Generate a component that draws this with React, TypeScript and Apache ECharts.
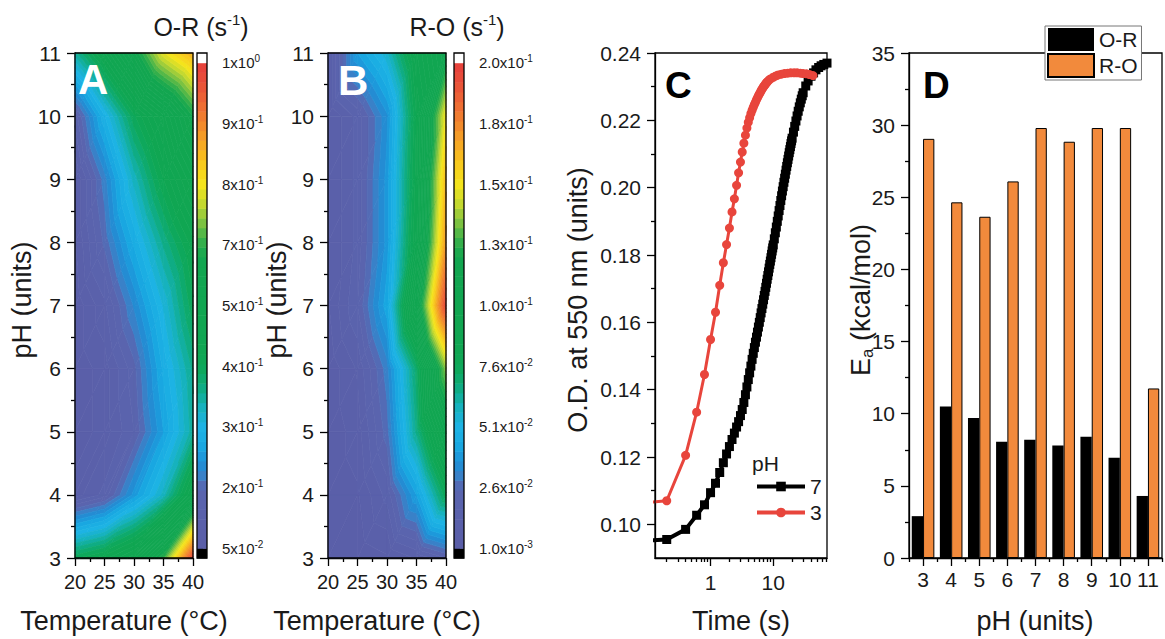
import React, { useEffect, useRef } from 'react';
import * as echarts from 'echarts';

const FONT = '"Liberation Sans", Arial, Helvetica, sans-serif';
const TXT = '#1a1a1a';

// ---------------- Panels A & B (contour maps) ----------------
const temperatures = [20, 25, 30, 35, 40];
const pHValues = [3, 4, 5, 6, 7, 8, 9, 10, 11];

// O-R rate constants (s^-1); rows: pH 3..11, columns: 20..40 °C
const rateOR = [
  [0.40, 0.43, 0.48, 0.70, 0.98],
  [0.11, 0.155, 0.25, 0.33, 0.46],
  [0.08, 0.11, 0.17, 0.26, 0.35],
  [0.08, 0.11, 0.185, 0.28, 0.36],
  [0.08, 0.14, 0.23, 0.31, 0.40],
  [0.095, 0.20, 0.28, 0.36, 0.43],
  [0.095, 0.22, 0.33, 0.42, 0.50],
  [0.155, 0.29, 0.40, 0.48, 0.66],
  [0.35, 0.45, 0.62, 0.79, 0.86],
];

// R-O rate constants (s^-1); rows: pH 3..11, columns: 20..40 °C
const rateRO = [
  [0.006, 0.006, 0.0085, 0.0135, 0.021],
  [0.006, 0.0085, 0.0185, 0.041, 0.076],
  [0.006, 0.011, 0.027, 0.066, 0.106],
  [0.006, 0.0135, 0.031, 0.071, 0.138],
  [0.0085, 0.021, 0.0435, 0.106, 0.196],
  [0.0085, 0.0185, 0.0385, 0.086, 0.174],
  [0.0085, 0.0185, 0.0385, 0.083, 0.165],
  [0.0085, 0.0185, 0.036, 0.081, 0.15],
  [0.0085, 0.041, 0.056, 0.088, 0.115],
];

const levelsOR = [0.05, 0.2, 0.3, 0.4, 0.5, 0.7, 0.8, 0.9, 1.0];
const levelLabelsOR = ['5x10^-2', '2x10^-1', '3x10^-1', '4x10^-1', '5x10^-1', '7x10^-1', '8x10^-1', '9x10^-1', '1x10^0'];
const levelsRO = [0.001, 0.026, 0.051, 0.076, 0.10, 0.13, 0.15, 0.18, 0.20];
const levelLabelsRO = ['1.0x10^-3', '2.6x10^-2', '5.1x10^-2', '7.6x10^-2', '1.0x10^-1', '1.3x10^-1', '1.5x10^-1', '1.8x10^-1', '2.0x10^-1'];

// ---------------- Panel C (kinetic traces) ----------------
const timePH7 = [
  0.1, 0.2, 0.4, 0.6, 0.8, 1.0, 1.2, 1.4, 1.6, 1.8, 2.0, 2.2, 2.4, 2.6, 2.8, 3.0,
  3.2, 3.4, 3.6, 3.8, 4.0, 4.2, 4.4, 4.6, 4.8, 5.0, 5.2, 5.4, 5.6, 5.8, 6.0,
  6.2, 6.4, 6.6, 6.8, 7.0, 7.2, 7.4, 7.6, 7.8, 8.0, 8.2, 8.4, 8.6, 8.8, 9.0, 9.2, 9.4, 9.6, 9.8, 10.0,
  10.4, 10.8, 11.2, 11.6, 12.0, 12.4, 12.8, 13.2, 13.6, 14.0, 14.4, 14.8, 15.2, 15.6, 16.0,
  16.4, 16.8, 17.2, 17.6, 18.0, 18.4, 18.8, 19.2, 19.6, 20.0,
  21, 22, 23, 24, 25, 26, 27, 28, 29, 30, 33, 36, 40, 44, 48, 53, 58, 64, 72,
];
const odPH7 = [
  0.0952, 0.0955, 0.0985, 0.1027, 0.1058, 0.1094, 0.1122, 0.1154, 0.1183, 0.1209, 0.1231, 0.1252, 0.1271, 0.1289, 0.1305, 0.1323,
  0.1341, 0.1362, 0.1385, 0.1408, 0.1430, 0.1450, 0.1470, 0.1490, 0.1508, 0.1525, 0.1541, 0.1556, 0.1571, 0.1586, 0.1600,
  0.1614, 0.1628, 0.1641, 0.1654, 0.1667, 0.1680, 0.1692, 0.1704, 0.1716, 0.1728, 0.1739, 0.1750, 0.1761, 0.1772, 0.1782, 0.1792, 0.1802, 0.1812, 0.1821, 0.1830,
  0.1848, 0.1866, 0.1883, 0.1900, 0.1916, 0.1932, 0.1947, 0.1962, 0.1976, 0.1990, 0.2003, 0.2016, 0.2028, 0.2040, 0.2052,
  0.2063, 0.2074, 0.2084, 0.2094, 0.2104, 0.2113, 0.2122, 0.2131, 0.2139, 0.2147,
  0.2165, 0.2182, 0.2198, 0.2213, 0.2227, 0.2240, 0.2252, 0.2263, 0.2273, 0.2282, 0.2302, 0.2317, 0.2331, 0.2341, 0.2350, 0.2357, 0.2362, 0.2366, 0.2370,
];
const timePH3 = [
  0.1, 0.2, 0.4, 0.6, 0.8, 1.0, 1.2, 1.4, 1.6, 1.8, 2.0, 2.2, 2.4, 2.6, 2.8, 3.0,
  3.2, 3.4, 3.6, 3.8, 4.0, 4.2, 4.4, 4.6, 4.8, 5.0, 5.2, 5.4, 5.6, 5.8, 6.0,
  6.2, 6.4, 6.6, 6.8, 7.0, 7.2, 7.4, 7.6, 7.8, 8.0, 8.5, 9.0, 10, 11, 12, 13.5, 15, 17, 19, 21.5, 24, 27, 30, 34, 38, 43,
];
const odPH3 = [
  0.1065, 0.1070, 0.1205, 0.1333, 0.1445, 0.1549, 0.1630, 0.1710, 0.1777, 0.1831, 0.1880, 0.1928, 0.1967, 0.2007, 0.2044, 0.2076,
  0.2106, 0.2132, 0.2156, 0.2177, 0.2194, 0.2208, 0.2220, 0.2230, 0.2239, 0.2247, 0.2254, 0.2261, 0.2267, 0.2273, 0.2278,
  0.2283, 0.2288, 0.2292, 0.2296, 0.2300, 0.2303, 0.2306, 0.2309, 0.2312, 0.2314, 0.2319, 0.2323, 0.2328, 0.2332, 0.2335, 0.2337, 0.2339, 0.2340, 0.2341, 0.2341, 0.2341, 0.2340, 0.2339, 0.2338, 0.2336, 0.2333,
];
const odTicks = [0.10, 0.12, 0.14, 0.16, 0.18, 0.20, 0.22, 0.24];
const odMinorTicks = [0.11, 0.13, 0.15, 0.17, 0.19, 0.21, 0.23];
const timeTicks = [1, 10];
const timeMinorTicks = [0.2, 0.3, 0.4, 0.5, 0.6, 0.7, 0.8, 0.9, 2, 3, 4, 5, 6, 7, 8, 9, 20, 30, 40, 50, 60, 70];

// ---------------- Panel D (activation energies) ----------------
const pHCategories = ['3', '4', '5', '6', '7', '8', '9', '10', '11'];
const eaOR = [2.9, 10.5, 9.7, 8.05, 8.2, 7.8, 8.4, 6.95, 4.3];
const eaRO = [29.05, 24.65, 23.65, 26.1, 29.8, 28.85, 29.8, 29.8, 11.75];

// ---------------- styling ----------------
const cmapStops: [number, string][] = [
  [0.0, '#5A5DA7'], [1.0, '#5A65AF'], [1.15, '#3F7DC4'], [1.4, '#1F8FD6'], [1.7, '#19A9E2'],
  [2.0, '#1DB3E4'], [2.3, '#17B2C2'], [2.6, '#0FAD8A'], [2.9, '#0EA85E'], [3.2, '#10A652'],
  [4.8, '#12A650'], [5.1, '#3CB14A'], [5.4, '#86C540'], [5.7, '#C8DA2E'], [6.0, '#F4E41C'],
  [6.3, '#F8CD1D'], [6.6, '#F7AE22'], [6.9, '#F3912A'], [7.2, '#EF7532'], [7.5, '#EB5C37'],
  [7.8, '#E8483A'], [8.0, '#E6403B'],
];
const LAY = {
  A: { left: 75, top: 53, width: 118, height: 505 },
  Acb: { left: 197, top: 53, width: 10, height: 505 },
  B: { left: 328, top: 53, width: 118, height: 505 },
  Bcb: { left: 454, top: 53, width: 10, height: 505 },
  C: { left: 655, top: 53, width: 172, height: 505 },
  D: { left: 909, top: 53, width: 253, height: 505 },
};
const CB_MIN = -0.16;
const CB_MAX = 8.16;
const STEP = 0.16;

function hexRgb(h: string) {
  const n = parseInt(h.slice(1), 16);
  return [(n >> 16) & 255, (n >> 8) & 255, n & 255];
}
function cmap(u: number) {
  if (u <= cmapStops[0][0]) return cmapStops[0][1];
  for (let k = 1; k < cmapStops.length; k++) {
    if (u <= cmapStops[k][0]) {
      const [u0, c0] = cmapStops[k - 1];
      const [u1, c1] = cmapStops[k];
      const t = (u - u0) / (u1 - u0);
      const a = hexRgb(c0), b = hexRgb(c1);
      return `rgb(${Math.round(a[0] + t * (b[0] - a[0]))},${Math.round(a[1] + t * (b[1] - a[1]))},${Math.round(a[2] + t * (b[2] - a[2]))})`;
    }
  }
  return cmapStops[cmapStops.length - 1][1];
}

const bands: { lo: number; hi: number; color: string }[] = [{ lo: -1000, hi: 0, color: '#000000' }];
const nBands = Math.round(8 / STEP);
for (let k = 0; k < nBands; k++) bands.push({ lo: k * STEP, hi: (k + 1) * STEP, color: cmap((k + 0.5) * STEP) });
bands.push({ lo: 8, hi: 1000, color: '#ffffff' });

function toLevel(v: number, levels: number[]) {
  const n = levels.length;
  if (v <= levels[0]) return (v - levels[0]) / (levels[1] - levels[0]);
  for (let i = 0; i < n - 1; i++) {
    if (v <= levels[i + 1]) return i + (v - levels[i]) / (levels[i + 1] - levels[i]);
  }
  return n - 1 + (v - levels[n - 1]) / (levels[n - 1] - levels[n - 2]);
}

type P3 = number[];
function clipHalf(poly: P3[], f: (p: P3) => number) {
  const res: P3[] = [];
  for (let k = 0; k < poly.length; k++) {
    const P = poly[k], Q = poly[(k + 1) % poly.length];
    const fp = f(P), fq = f(Q);
    if (fp >= 0) res.push(P);
    if ((fp >= 0) !== (fq >= 0)) {
      const t = fp / (fp - fq);
      res.push([P[0] + t * (Q[0] - P[0]), P[1] + t * (Q[1] - P[1]), P[2] + t * (Q[2] - P[2])]);
    }
  }
  return res;
}

function makeContour(values: number[][], levels: number[]) {
  const u = values.map((row) => row.map((v) => toLevel(v, levels)));
  return (params: any, api: any) => {
    const i = temperatures.indexOf(api.value(0));
    const j = pHValues.indexOf(api.value(1));
    const corner = (ii: number, jj: number): P3 => {
      const c = api.coord([temperatures[ii], pHValues[jj]]);
      return [c[0], c[1], u[jj][ii]];
    };
    const p00 = corner(i, j), p10 = corner(i + 1, j), p01 = corner(i, j + 1), p11 = corner(i + 1, j + 1);
    const tris = [[p00, p10, p11], [p00, p11, p01]];
    const children: any[] = [];
    for (const tri of tris) {
      const us = tri.map((p) => p[2]);
      const umin = Math.min(...us), umax = Math.max(...us);
      for (const b of bands) {
        if (b.hi < umin || b.lo > umax) continue;
        let poly = clipHalf(tri, (p) => p[2] - b.lo);
        poly = clipHalf(poly, (p) => b.hi - p[2]);
        if (poly.length < 3) continue;
        children.push({
          type: 'polygon',
          shape: { points: poly.map((p) => [p[0], p[1]]) },
          style: { fill: b.color, stroke: b.color, lineWidth: 0.7 },
        });
      }
    }
    return { type: 'group', children };
  };
}

const cells: number[][] = [];
for (let j = 0; j < pHValues.length - 1; j++)
  for (let i = 0; i < temperatures.length - 1; i++) cells.push([temperatures[i], pHValues[j]]);

const bandData = bands.map((b, k) => [0, Math.max(b.lo, CB_MIN), Math.min(b.hi, CB_MAX), k]);
const colorbarRender = (params: any, api: any) => {
  const k = api.value(3);
  const p1 = api.coord([0, api.value(2)]);
  const p2 = api.coord([1, api.value(1)]);
  return {
    type: 'rect',
    shape: { x: p1[0], y: p1[1], width: p2[0] - p1[0], height: p2[1] - p1[1] + 0.5 },
    style: { fill: bands[k].color },
  };
};

const richSup = (s: string) => {
  const [m, e] = s.split('^');
  return `{m|${m}}{e|${e}}`;
};

const black = '#000';
const lineSt = { color: black, width: 1.3 };

function grid(g: any) {
  return { ...g, show: true, borderColor: black, borderWidth: 1.3, backgroundColor: 'rgba(0,0,0,0)', z: 10, containLabel: false, outerBoundsMode: 'none' };
}

function tempAxis(gridIndex: number) {
  return {
    type: 'value', gridIndex, min: 20, max: 40, interval: 5,
    axisLine: { show: true, lineStyle: lineSt },
    axisTick: { show: true, length: 8, lineStyle: lineSt },
    minorTick: { show: true, splitNumber: 2, length: 4, lineStyle: lineSt },
    axisLabel: { fontSize: 20, margin: 14, color: TXT, fontFamily: FONT },
    splitLine: { show: false }, minorSplitLine: { show: false },
  };
}
function pHAxis(gridIndex: number) {
  return {
    type: 'value', gridIndex, min: 3, max: 11, interval: 1,
    axisLine: { show: true, lineStyle: lineSt },
    axisTick: { show: true, length: 8, lineStyle: lineSt },
    minorTick: { show: true, splitNumber: 2, length: 4, lineStyle: lineSt },
    axisLabel: { fontSize: 21, margin: 14, color: TXT, fontFamily: FONT },
    splitLine: { show: false }, minorSplitLine: { show: false },
  };
}
function cbXAxis(gridIndex: number) {
  return { type: 'value', gridIndex, min: 0, max: 1, show: false };
}
function cbYAxis(gridIndex: number, labels: string[]) {
  const idx = labels.map((_, i) => i);
  return {
    type: 'value', gridIndex, position: 'right', min: CB_MIN, max: CB_MAX,
    axisLine: { show: false },
    axisTick: { show: true, length: 6, customValues: idx, lineStyle: { color: black, width: 1.2 } },
    axisLabel: {
      show: true, customValues: idx, margin: 15,
      formatter: (v: number) => richSup(labels[Math.round(v)]),
      rich: {
        m: { fontSize: 15, fontFamily: FONT, color: TXT, lineHeight: 18 },
        e: { fontSize: 10, fontFamily: FONT, color: TXT, lineHeight: 8, verticalAlign: 'top' },
      },
    },
    splitLine: { show: false },
  };
}

const axisTitle = (text: string, x: number, y: number, rotate = false) => ({
  type: 'text', x, y, z: 100, rotation: rotate ? Math.PI / 2 : 0,
  style: { text, font: `27px ${FONT}`, fill: TXT, align: 'center', verticalAlign: 'middle', textAlign: 'center', textVerticalAlign: 'middle' },
});
const letter = (text: string, x: number, y: number, size: number, fill: string) => ({
  type: 'text', x, y, z: 100,
  style: { text, font: `bold ${size}px ${FONT}`, fill, align: 'left', verticalAlign: 'middle', textAlign: 'left', textVerticalAlign: 'middle' },
});
const panelTitle = (name: string, x: number) => ({
  type: 'text', x, y: 27, z: 100,
  style: {
    text: `{a|${name} (s}{b|-1}{a|)}`, align: 'center', verticalAlign: 'middle', textAlign: 'center', textVerticalAlign: 'middle',
    rich: {
      a: { fontSize: 25, fontFamily: FONT, fill: TXT, color: TXT, lineHeight: 30 },
      b: { fontSize: 15, fontFamily: FONT, fill: TXT, color: TXT, lineHeight: 12, verticalAlign: 'top' },
    },
  },
});

export default function App() {
  const ref = useRef<HTMLDivElement>(null);
  useEffect(() => {
    if (!ref.current) return;
    const chart = echarts.init(ref.current, null, { renderer: 'svg' });
    const option: any = {
      animation: false,
      backgroundColor: '#ffffff',
      textStyle: { fontFamily: FONT },
      grid: [grid(LAY.A), grid(LAY.Acb), grid(LAY.B), grid(LAY.Bcb), grid(LAY.C), grid(LAY.D)],
      xAxis: [
        tempAxis(0),
        cbXAxis(1),
        tempAxis(2),
        cbXAxis(3),
        {
          type: 'log', logBase: 10, gridIndex: 4, min: 0.13, max: 72, position: 'bottom',
          axisLine: { show: true, lineStyle: lineSt },
          axisTick: { show: true, length: 8, customValues: timeTicks, lineStyle: lineSt },
          axisLabel: { customValues: timeTicks, fontSize: 21, margin: 14, color: TXT, fontFamily: FONT, formatter: (v: number) => String(v) },
          splitLine: { show: false }, minorTick: { show: false },
        },
        {
          type: 'log', logBase: 10, gridIndex: 4, min: 0.13, max: 72, position: 'bottom',
          axisLine: { show: false },
          axisTick: { show: true, length: 4, customValues: timeMinorTicks, lineStyle: lineSt },
          axisLabel: { show: false },
          splitLine: { show: false },
        },
        {
          type: 'category', gridIndex: 5, data: pHCategories, position: 'bottom',
          axisLine: { show: true, lineStyle: lineSt },
          axisTick: { show: true, length: 8, alignWithLabel: true, lineStyle: lineSt },
          axisLabel: { fontSize: 21, margin: 11, color: TXT, fontFamily: FONT, interval: 0 },
          splitLine: { show: false },
        },
        {
          type: 'category', gridIndex: 5, data: pHCategories, position: 'bottom',
          axisLine: { show: false },
          axisTick: { show: true, length: 4, alignWithLabel: false, interval: 0, lineStyle: lineSt },
          axisLabel: { show: false },
          splitLine: { show: false },
        },
      ],
      yAxis: [
        pHAxis(0),
        cbYAxis(1, levelLabelsOR),
        pHAxis(2),
        cbYAxis(3, levelLabelsRO),
        {
          type: 'value', gridIndex: 4, min: 0.09, max: 0.24, position: 'left',
          axisLine: { show: true, lineStyle: lineSt },
          axisTick: { show: true, length: 8, customValues: odTicks, lineStyle: lineSt },
          axisLabel: { customValues: odTicks, fontSize: 21, margin: 14, color: TXT, fontFamily: FONT, formatter: (v: number) => v.toFixed(2) },
          splitLine: { show: false },
        },
        {
          type: 'value', gridIndex: 4, min: 0.09, max: 0.24, position: 'left',
          axisLine: { show: false },
          axisTick: { show: true, length: 4, customValues: odMinorTicks, lineStyle: lineSt },
          axisLabel: { show: false },
          splitLine: { show: false },
        },
        {
          type: 'value', gridIndex: 5, min: 0, max: 35, interval: 5,
          axisLine: { show: true, lineStyle: lineSt },
          axisTick: { show: true, length: 8, lineStyle: lineSt },
          minorTick: { show: true, splitNumber: 2, length: 4, lineStyle: lineSt },
          axisLabel: { fontSize: 21, margin: 14, color: TXT, fontFamily: FONT },
          splitLine: { show: false }, minorSplitLine: { show: false },
        },
      ],
      legend: [
        {
          data: ['7', '3'], left: 750, top: 471, orient: 'vertical',
          itemWidth: 48, itemHeight: 12, itemGap: 5, itemTextGap: 2,
          lineStyle: { width: 4 },
          textStyle: { fontSize: 21, color: TXT, fontFamily: FONT }, selectedMode: false,
        },
        {
          data: ['O-R', 'R-O'], left: 1045, top: 26, orient: 'vertical', icon: 'rect',
          itemWidth: 46, itemHeight: 23, itemGap: 2, itemTextGap: 4, padding: [2, 4, 2, 2],
          borderColor: '#777', borderWidth: 1, backgroundColor: '#fff', z: 20,
          textStyle: { fontSize: 21, color: TXT, fontFamily: FONT }, selectedMode: false,
        },
      ],
      series: [
        { type: 'custom', name: 'O-R map', xAxisIndex: 0, yAxisIndex: 0, data: cells, renderItem: makeContour(rateOR, levelsOR), silent: true },
        { type: 'custom', name: 'O-R scale', xAxisIndex: 1, yAxisIndex: 1, data: bandData, renderItem: colorbarRender, silent: true },
        { type: 'custom', name: 'R-O map', xAxisIndex: 2, yAxisIndex: 2, data: cells, renderItem: makeContour(rateRO, levelsRO), silent: true },
        { type: 'custom', name: 'R-O scale', xAxisIndex: 3, yAxisIndex: 3, data: bandData, renderItem: colorbarRender, silent: true },
        {
          type: 'line', name: '7', xAxisIndex: 4, yAxisIndex: 4,
          data: timePH7.map((t, i) => [t, odPH7[i]]),
          symbol: 'rect', symbolSize: 9, showAllSymbol: true,
          itemStyle: { color: '#000' }, lineStyle: { color: '#000', width: 4 },
        },
        {
          type: 'line', name: '3', xAxisIndex: 4, yAxisIndex: 4,
          data: timePH3.map((t, i) => [t, odPH3[i]]),
          symbol: 'circle', symbolSize: 9, showAllSymbol: true,
          itemStyle: { color: '#E8453C' }, lineStyle: { color: '#E8453C', width: 3 },
        },
        {
          type: 'bar', name: 'O-R', xAxisIndex: 6, yAxisIndex: 6, data: eaOR,
          barWidth: 11.3, barGap: '0%', itemStyle: { color: '#000' },
        },
        {
          type: 'bar', name: 'R-O', xAxisIndex: 6, yAxisIndex: 6, data: eaRO,
          barWidth: 11.3, barGap: '0%', itemStyle: { color: '#F28A3C', borderColor: '#000', borderWidth: 1 },
        },
      ],
      graphic: [
        panelTitle('O-R', 201),
        panelTitle('R-O', 457),
        letter('A', 78, 79, 42, '#ffffff'),
        letter('B', 338, 80, 42, '#ffffff'),
        letter('C', 665, 85, 37, '#000'),
        letter('D', 923, 85, 37, '#000'),
        axisTitle('pH (units)', 22, 300, true),
        axisTitle('pH (units)', 277, 300, true),
        axisTitle('O.D. at 550 nm (units)', 578, 300, true),
        {
          type: 'text', x: 861, y: 300, z: 100, rotation: Math.PI / 2,
          style: {
            text: '{a|E}{s|a}{a| (kcal/mol)}', align: 'center', verticalAlign: 'middle', textAlign: 'center', textVerticalAlign: 'middle',
            rich: {
              a: { fontSize: 27, fontFamily: FONT, fill: TXT, color: TXT, lineHeight: 30 },
              s: { fontSize: 17, fontFamily: FONT, fill: TXT, color: TXT, lineHeight: 14, verticalAlign: 'bottom' },
            },
          },
        },
        axisTitle('Temperature (°C)', 124, 621),
        axisTitle('Temperature (°C)', 377, 621),
        axisTitle('Time (s)', 741, 621),
        axisTitle('pH (units)', 1035, 621),
        {
          type: 'text', x: 752, y: 463, z: 100,
          style: { text: 'pH', font: `21px ${FONT}`, fill: TXT, align: 'left', verticalAlign: 'middle', textAlign: 'left', textVerticalAlign: 'middle' },
        },
      ],
    };
    chart.setOption(option);
    return () => chart.dispose();
  }, []);
  return <div ref={ref} style={{ position: 'fixed', left: 0, top: 0, width: 1165, height: 639 }} />;
}
